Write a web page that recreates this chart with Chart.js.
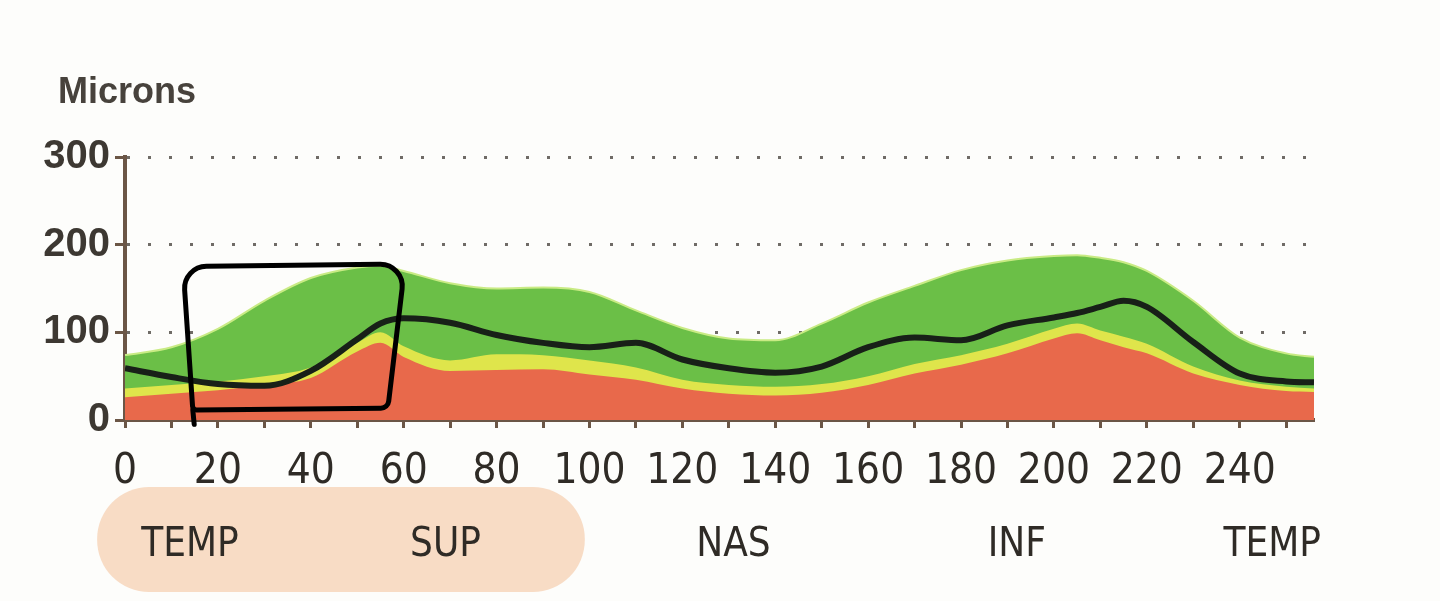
<!DOCTYPE html>
<html>
<head>
<meta charset="utf-8">
<title>Microns</title>
<script src="https://cdn.jsdelivr.net/npm/chart.js@4.4.1/dist/chart.umd.min.js"></script>
<style>
  html, body { margin: 0; padding: 0; background: #fdfdfb; }
  #wrap { width: 1440px; height: 601px; position: relative; }
</style>
</head>
<body>
<div id="wrap"><canvas id="grafico"></canvas></div>
<script>
// posicion (0-256) y espesor en micras
const angulos   = [0, 10, 20, 30, 40, 50, 55, 60, 70, 80, 90, 100, 110, 120, 130, 140, 150, 160, 170, 180, 190, 200, 205, 210, 215, 220, 230, 240, 250, 256]
const normalSup = [74, 83, 104, 136, 162, 174, 176, 170, 156, 150, 151, 146, 125, 105, 93, 91, 110, 134, 153, 171, 182, 187, 188, 185, 180, 170, 136, 94, 76, 72]
const limite5   = [36, 40, 44, 50, 60, 88, 100, 84, 68, 75, 74, 68, 60, 46, 40, 38, 41, 50, 64, 74, 87, 104, 110, 102, 95, 87, 61, 45, 38, 36]
const limite1   = [26, 30, 34, 40, 48, 78, 88, 72, 56, 57, 58, 52, 46, 36, 30, 28, 31, 40, 53, 63, 76, 93, 99, 91, 83, 76, 53, 40, 33, 32]
const paciente  = [59, 49, 41, 39, 56, 92, 110, 116, 111, 97, 88, 83, 88, 69, 59, 54, 61, 83, 94, 91, 108, 117, 122, 129, 136, 129, 89, 53, 44, 43]

const xMarcas = [0, 10, 20, 30, 40, 50, 60, 70, 80, 90, 100, 110, 120, 130, 140, 150, 160, 170, 180, 190, 200, 210, 220, 230, 240, 250]
const xEtiquetas = ['0', '20', '40', '60', '80', '100', '120', '140', '160', '180', '200', '220', '240']
const yMarcas = [0, 50, 100, 150, 200, 250, 300]
const yEtiquetas = ['0', '100', '200', '300']
const zonas = ['TEMP', 'SUP', 'NAS', 'INF', 'TEMP']
const zonasPos = [14, 69, 131, 192, 247]
const titulo = 'Microns'

// anotaciones a mano (en unidades del grafico)
const resaltado = [-6, 99]
const recuadro = [[12.5, 175], [60.3, 178], [56.6, 13.6], [14.6, 11.4]]

const marron = '#6b5646'
const texto = '#2f2b26'
const angosta = "'Liberation Sans Narrow', 'DejaVu Sans Condensed', 'Liberation Sans', sans-serif"
const normal = "'Liberation Sans', Arial, sans-serif"

const serie = (valores) => angulos.map((a, i) => ({ x: a, y: valores[i] }))

const anotaciones = {
  id: 'anotaciones',
  beforeDraw(chart) {
    const ctx = chart.ctx
    ctx.save()
    ctx.fillStyle = '#fdfdfb'
    ctx.fillRect(0, 0, chart.width, chart.height)
    const xs = chart.scales.x
    const reg = chart.scales.zona
    const x1 = xs.getPixelForValue(resaltado[0])
    const x2 = xs.getPixelForValue(resaltado[1])
    ctx.fillStyle = '#f8dcc5'
    ctx.beginPath()
    ctx.roundRect(x1, reg.top - 12, x2 - x1, reg.bottom + 17 - (reg.top - 12), 52)
    ctx.fill()
    // titulo del eje
    ctx.fillStyle = '#47423c'
    ctx.font = 'bold 36px ' + normal
    ctx.textBaseline = 'alphabetic'
    ctx.fillText(titulo, chart.chartArea.left - 67, chart.chartArea.top - 54)
    ctx.restore()
  },
  afterDraw(chart) {
    const ctx = chart.ctx
    const xs = chart.scales.x, ys = chart.scales.y
    const p = recuadro.map(c => [xs.getPixelForValue(c[0]), ys.getPixelForValue(c[1])])
    ctx.save()
    ctx.strokeStyle = '#000'
    ctx.lineWidth = 5
    ctx.lineJoin = 'round'
    ctx.lineCap = 'round'
    ctx.beginPath()
    ctx.moveTo((p[0][0] + p[1][0]) / 2, (p[0][1] + p[1][1]) / 2)
    ctx.arcTo(p[1][0], p[1][1], p[2][0], p[2][1], 22)
    ctx.arcTo(p[2][0], p[2][1], p[3][0], p[3][1], 8)
    ctx.arcTo(p[3][0], p[3][1], p[0][0], p[0][1], 4)
    ctx.arcTo(p[0][0], p[0][1], p[1][0], p[1][1], 22)
    ctx.closePath()
    ctx.stroke()
    ctx.beginPath()
    ctx.moveTo(p[3][0], p[3][1])
    ctx.lineTo(xs.getPixelForValue(14.9), ys.getPixelForValue(-5))
    ctx.stroke()
    ctx.restore()
  }
}

const capa = (valores, color, orden, borde) => ({
  data: serie(valores),
  backgroundColor: color,
  borderColor: borde || color,
  borderWidth: borde ? 2 : 0,
  fill: 'origin',
  pointRadius: 0,
  cubicInterpolationMode: 'monotone',
  order: orden
})

const config = {
  type: 'line',
  data: {
    datasets: [
      {
        data: serie(paciente),
        borderColor: '#182018',
        borderWidth: 6,
        fill: false,
        pointRadius: 0,
        cubicInterpolationMode: 'monotone',
        order: 0
      },
      capa(limite1, '#e8694b', 1),
      capa(limite5, '#dfe54b', 2),
      capa(normalSup, '#6bbf47', 3, '#c9eb84')
    ]
  },
  options: {
    responsive: true,
    maintainAspectRatio: false,
    animation: false,
    layout: { padding: { left: 0, right: 126, top: 157, bottom: 26 } },
    plugins: {
      legend: { display: false },
      tooltip: { enabled: false },
      title: { display: false }
    },
    scales: {
      x: {
        type: 'linear',
        min: 0,
        max: 256,
        position: 'bottom',
        weight: 0,
        afterBuildTicks: (s) => { s.ticks = xMarcas.map(v => ({ value: v })) },
        afterFit: (s) => { s.height = 79 },
        ticks: {
          autoSkip: false,
          maxRotation: 0,
          padding: 19,
          color: texto,
          font: { family: angosta, size: 42 },
          callback: (v) => v % 20 === 0 ? xEtiquetas[v / 20] : ''
        },
        grid: { drawOnChartArea: false, drawTicks: true, tickLength: 8, tickWidth: 3, tickColor: marron },
        border: { color: marron, width: 4 }
      },
      zona: {
        type: 'linear',
        min: 0,
        max: 256,
        position: 'bottom',
        weight: 1,
        afterBuildTicks: (s) => { s.ticks = zonasPos.map(v => ({ value: v })) },
        afterFit: (s) => { s.height = 76 },
        ticks: {
          autoSkip: false,
          maxRotation: 0,
          padding: 23,
          color: texto,
          font: { family: angosta, size: 40 },
          callback: (v, i) => zonas[i]
        },
        grid: { display: false, drawTicks: false },
        border: { display: false }
      },
      y: {
        min: 0,
        max: 300,
        afterBuildTicks: (s) => { s.ticks = yMarcas.map(v => ({ value: v })) },
        afterFit: (s) => { s.width = 125 },
        ticks: {
          padding: 5,
          color: '#3d3832',
          font: { family: normal, size: 40, weight: 'bold' },
          callback: (v) => v % 100 === 0 ? yEtiquetas[v / 100] : ''
        },
        grid: {
          color: (c) => (c.tick && c.tick.value > 0 && c.tick.value % 100 === 0) ? '#6f6b66' : 'rgba(0,0,0,0)',
          lineWidth: 3,
          tickLength: 10,
          tickWidth: 3,
          tickColor: marron
        },
        border: { color: marron, width: 4, dash: [3, 18] }
      }
    }
  },
  plugins: [anotaciones]
}

new Chart(document.getElementById('grafico'), config)
</script>
</body>
</html>
